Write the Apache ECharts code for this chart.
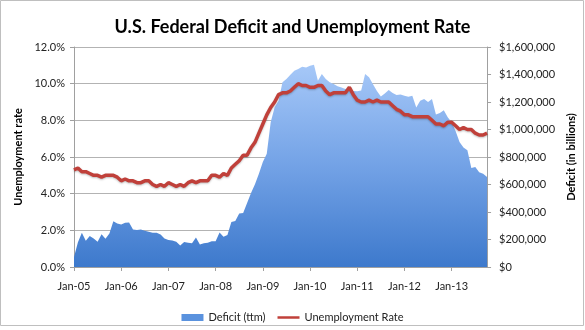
<!DOCTYPE html>
<html><head><meta charset="utf-8">
<script src="https://cdn.jsdelivr.net/npm/echarts@6/dist/echarts.min.js"></script>
<style>html,body{margin:0;padding:0;background:#fff}#c{width:585px;height:330px}</style>
</head><body><div id="c"></div>
<script>
var monthNames = ['Jan','Feb','Mar','Apr','May','Jun','Jul','Aug','Sep','Oct','Nov','Dec'];
var years = ['05','06','07','08','09','10','11','12','13'];
var categories = [];
years.forEach(function(y){ monthNames.forEach(function(m){ categories.push(m + '-' + y); }); });
categories = categories.slice(0, 106); // Jan-05 .. Oct-13

var deficit = [
 72000,180000,249000,191000,225000,208000,183000,239000,205000,244000,333000,317000,
 309000,321000,324000,273000,270000,273000,263000,256000,249000,249000,237000,208000,
 196000,192000,183000,157000,181000,176000,172000,215000,164000,172000,176000,188000,
 188000,251000,220000,232000,328000,335000,389000,393000,466000,538000,601000,679000,
 763000,824000,1053000,1162000,1210000,1343000,1367000,1398000,1427000,1440000,1456000,1451000,
 1464000,1471000,1355000,1403000,1367000,1343000,1331000,1315000,1306000,1295000,1283000,1280000,
 1278000,1283000,1403000,1380000,1330000,1280000,1240000,1262000,1288000,1265000,1251000,1255000,
 1245000,1238000,1246000,1160000,1210000,1222000,1200000,1222000,1110000,1120000,1140000,1090000,
 1053000,990000,910000,870000,850000,720000,727000,690000,679000,654000
];
var unemployment = [
 5.3,5.4,5.2,5.2,5.1,5.0,5.0,4.9,5.0,5.0,5.0,4.9,
 4.7,4.8,4.7,4.7,4.6,4.6,4.7,4.7,4.5,4.4,4.5,4.4,
 4.6,4.5,4.4,4.5,4.4,4.6,4.7,4.6,4.7,4.7,4.7,5.0,
 5.0,4.9,5.1,5.0,5.4,5.6,5.8,6.1,6.1,6.5,6.8,7.3,
 7.8,8.3,8.7,9.0,9.4,9.5,9.5,9.6,9.8,10.0,9.9,9.9,
 9.8,9.8,9.9,9.9,9.6,9.4,9.5,9.5,9.5,9.5,9.8,9.4,
 9.1,9.0,9.0,9.1,9.0,9.1,9.0,9.0,9.0,8.8,8.6,8.5,
 8.3,8.3,8.2,8.2,8.2,8.2,8.2,8.0,7.8,7.8,7.7,7.9,
 7.9,7.7,7.5,7.6,7.5,7.5,7.3,7.2,7.2,7.3
];
var titleText = 'U.S. Federal Deficit and Unemployment Rate';
var seriesNames = ['Deficit (ttm)', 'Unemployment Rate'];
var leftAxisName = 'Unemployment rate';
var rightAxisName = 'Deficit (in billions)';

var FONT = 'Lato, "Open Sans", sans-serif';
var chart = echarts.init(document.getElementById('c'), null, {renderer:'canvas'});
chart.setOption({
  animation: false,
  backgroundColor: '#fff',
  textStyle: {fontFamily: FONT},
  title: {text: titleText, left: 'center', top: 13,
    textStyle: {fontFamily: FONT, fontSize: 18, fontWeight: 'bold', color: '#000'}},
  graphic: [{type:'rect', shape:{x:0.5,y:0.5,width:583,height:325}, style:{fill:'none', stroke:'#bfbfbf', lineWidth:1}, silent:true}],
  legend: {
    bottom: 2, left: 'center', itemGap: 12, itemWidth: 22, itemHeight: 7,
    symbolKeepAspect: true,
    textStyle: {fontFamily: FONT, fontSize: 11, color: '#222'},
    data: [{name: seriesNames[0], icon: 'rect'},
           {name: seriesNames[1], icon: 'path://M0,0L22,0L22,2.5L0,2.5Z'}]
  },
  grid: {left: 74, right: 96, top: 47, bottom: 63},
  xAxis: {
    type: 'category', data: categories, boundaryGap: false,
    axisLine: {lineStyle: {color: '#a0a0a0'}},
    axisTick: {alignWithLabel: true, interval: function(i){return i % 12 === 0;}, length: 4, lineStyle:{color:'#a0a0a0'}},
    axisLabel: {interval: function(i){return i % 12 === 0;}, fontFamily: FONT, fontSize: 11, color: '#222', margin: 14},
    splitLine: {show: false}
  },
  yAxis: [{
    type: 'value', min: 0, max: 12, interval: 2, position: 'left',
    name: leftAxisName, nameLocation: 'middle', nameGap: 46, nameRotate: 90,
    nameTextStyle: {fontFamily: FONT, fontSize: 11, fontWeight: 'bold', color: '#000'},
    axisLine: {show: true, lineStyle: {color: '#a0a0a0'}},
    axisTick: {show: true, length: 4, lineStyle: {color: '#a0a0a0'}},
    axisLabel: {formatter: function(v){return v.toFixed(1) + '%';}, fontFamily: FONT, fontSize: 11, color: '#222', margin: 9},
    splitLine: {show: true, lineStyle: {color: '#b3b3b3', width: 1}}
  }, {
    type: 'value', min: 0, max: 1600000, interval: 200000, position: 'right',
    name: rightAxisName, nameLocation: 'middle', nameGap: 71, nameRotate: 90,
    nameTextStyle: {fontFamily: FONT, fontSize: 11, fontWeight: 'bold', color: '#000'},
    axisLine: {show: true, lineStyle: {color: '#a0a0a0'}},
    axisTick: {show: true, length: 4, lineStyle: {color: '#a0a0a0'}},
    axisLabel: {formatter: function(v){return '$' + v.toLocaleString('en-US');}, fontFamily: FONT, fontSize: 11, color: '#222', margin: 12},
    splitLine: {show: false}
  }],
  series: [{
    name: seriesNames[0], type: 'line', yAxisIndex: 1, data: deficit,
    symbol: 'none', lineStyle: {width: 0}, itemStyle: {color: '#5a92de'},
    areaStyle: {opacity: 1, color: new echarts.graphic.LinearGradient(0, 0, 0, 1, [
      {offset: 0, color: '#a6c8f8'}, {offset: 0.5, color: '#73a2e6'}, {offset: 1, color: '#3d79cc'}])},
    z: 1
  }, {
    name: seriesNames[1], type: 'line', yAxisIndex: 0, data: unemployment,
    symbol: 'none', itemStyle: {color: '#c0403a'},
    lineStyle: {width: 3.5, color: '#c0403a', shadowColor: 'rgba(0,0,0,0.25)', shadowBlur: 2, shadowOffsetY: 1},
    z: 3
  }]
});
</script></body></html>
